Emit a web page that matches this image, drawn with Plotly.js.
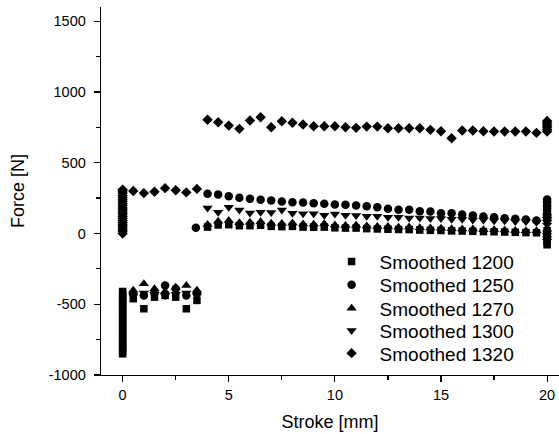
<!DOCTYPE html>
<html>
<head>
<meta charset="utf-8">
<script src="https://cdn.plot.ly/plotly-3.0.1.min.js"></script>
<style>html,body{margin:0;padding:0;background:#fff;}#chart{width:559px;height:434px;}</style>
</head>
<body>
<div id="chart"></div>
<script>
// ---- data ----
var xInit = [0.5, 1, 1.5, 2, 2.5, 3, 3.5];
var xMain = [4, 4.5, 5, 5.5, 6, 6.5, 7, 7.5, 8, 8.5, 9, 9.5, 10, 10.5, 11, 11.5,
             12, 12.5, 13, 13.5, 14, 14.5, 15, 15.5, 16, 16.5, 17, 17.5, 18, 18.5, 19, 19.5];

// dense vertical clusters at stroke 0 and stroke 20
var s1200Start = [-410, -430, -450, -470, -490, -510, -530, -550, -570, -590, -610, -630,
                  -650, -670, -690, -710, -730, -750, -770, -790, -810, -830, -850];
var s1200Init  = [-461, -532, -450, -438, -450, -532, -473];
var s1200Main  = [45, 60, 62, 55, 55, 58, 50, 48, 50, 45, 44, 45, 40, 38, 38, 34,
                  32, 30, 28, 27, 24, 22, 21, 18, 17, 15, 13, 12, 10, 8, 6, 5];
var s1200End   = [-80, -60, -40, -20, 0, 20];

var s1250Init  = [-430, -438, -420, -367, -390, -438, -420];
var s1250Lone  = [40];
var s1250Main  = [280, 275, 263, 252, 245, 238, 233, 226, 221, 218, 214, 210, 205, 203, 198, 193,
                  186, 174, 167, 167, 157, 155, 143, 143, 134, 127, 120, 115, 108, 104, 99, 92];
var s1250End   = [100, 120, 140, 160, 180, 200, 220, 240];

var s1270Init  = [-402, -355, -390, -410, -380, -367, -402];
var s1270Main  = [64, 87, 92, 75, 80, 83, 72, 70, 74, 66, 65, 68, 60, 57, 58, 52,
                  50, 49, 44, 45, 40, 38, 37, 33, 32, 31, 27, 26, 25, 21, 20, 19];
var s1270End   = [-30, -10, 10, 30];

var s1300Init  = [-440, -420, -430, -440, -430, -420, -440];
var s1300Main  = [180, 150, 185, 165, 145, 150, 148, 165, 143, 140, 140, 128, 138, 128, 127, 122,
                  122, 115, 115, 110, 110, 105, 105, 100, 100, 95, 95, 90, 90, 85, 85, 80];
var s1300End   = [60, 80, 100, 120];

var s1320Start = [0, 15, 30, 45, 60, 75, 90, 105, 120, 135, 150, 165, 180, 195, 210,
                  225, 240, 255, 270, 285, 300, 310];
var s1320Init  = [300, 285, 295, 320, 305, 290, 315];
var s1320Main  = [803, 786, 762, 739, 798, 821, 750, 793, 782, 770, 758, 758, 758, 750, 746, 755,
                  755, 743, 743, 743, 743, 732, 722, 673, 727, 727, 722, 720, 720, 720, 720, 711];
var s1320End   = [720, 735, 750, 765, 780, 795];

var seriesNames = ['Smoothed 1200', 'Smoothed 1250', 'Smoothed 1270', 'Smoothed 1300', 'Smoothed 1320'];
var xTickVals = [0, 5, 10, 15, 20];
var yTickVals = [-1000, -500, 0, 500, 1000, 1500];

// ---- helpers ----
function fill(v, n) { var a = []; for (var i = 0; i < n; i++) a.push(v); return a; }
function build(parts) {
  var x = [], y = [];
  parts.forEach(function (p) { x = x.concat(p[0]); y = y.concat(p[1]); });
  return {x: x, y: y};
}

var d1200 = build([[fill(0, s1200Start.length), s1200Start], [xInit, s1200Init], [xMain, s1200Main], [fill(20, s1200End.length), s1200End]]);
var d1250 = build([[xInit, s1250Init], [[3.45], s1250Lone], [xMain, s1250Main], [fill(20, s1250End.length), s1250End]]);
var d1270 = build([[xInit, s1270Init], [xMain, s1270Main], [fill(20, s1270End.length), s1270End]]);
var d1300 = build([[xInit, s1300Init], [xMain, s1300Main], [fill(20, s1300End.length), s1300End]]);
var d1320 = build([[fill(0, s1320Start.length), s1320Start], [xInit, s1320Init], [xMain, s1320Main], [fill(20, s1320End.length), s1320End]]);

var legendIds = ['legend', 'legend2', 'legend3', 'legend4', 'legend5'];
function tr(d, i, symbol, size) {
  return {x: d.x, y: d.y, name: seriesNames[i], type: 'scatter', mode: 'markers', legend: legendIds[i],
          marker: {symbol: symbol, size: size, color: '#000'}};
}

var data = [
  tr(d1200, 0, 'square', 7.5),
  tr(d1250, 1, 'circle', 8.5),
  tr(d1270, 2, 'triangle-up', 9),
  tr(d1300, 3, 'triangle-down', 9),
  tr(d1320, 4, 'diamond', 8)
];

var font = 'Arial, "Liberation Sans", sans-serif';
var plotTop = 7, plotBottom = 375;
var rowCenters = [261.7, 285, 308.3, 330.7, 353.3];
var layout = {
  width: 559, height: 434,
  margin: {l: 101, r: 0, t: plotTop, b: 434 - plotBottom},
  paper_bgcolor: '#fff', plot_bgcolor: '#fff',
  font: {family: font, color: '#000', size: 14.5},
  showlegend: true,
  xaxis: {
    range: [-1.02, 20.56], tickvals: xTickVals, ticktext: xTickVals.map(String),
    ticks: 'outside', ticklen: 6, tickwidth: 1.2, tickcolor: '#000',
    showline: true, linecolor: '#000', linewidth: 1.3, mirror: false,
    showgrid: false, zeroline: false,
    minor: {dtick: 2.5, tick0: 0, ticks: 'outside', ticklen: 4, tickwidth: 1.2, tickcolor: '#000', showgrid: false},
    title: {text: 'Stroke [mm]', font: {family: font, size: 18, color: '#000'}, standoff: 13}
  },
  yaxis: {
    range: [-1000, 1600], tickvals: yTickVals, ticktext: yTickVals.map(String),
    ticks: 'outside', ticklen: 6, tickwidth: 1.2, tickcolor: '#000', ticklabelstandoff: 5,
    showline: true, linecolor: '#000', linewidth: 1.3, mirror: false,
    showgrid: false, zeroline: false,
    minor: {dtick: 250, tick0: 0, ticks: 'outside', ticklen: 4, tickwidth: 1.2, tickcolor: '#000', showgrid: false},
    title: {text: 'Force [N]', font: {family: font, size: 18, color: '#000'}, standoff: 19}
  }
};
legendIds.forEach(function (id, i) {
  layout[id] = {x: 0.486, y: (plotBottom - rowCenters[i]) / (plotBottom - plotTop),
                xanchor: 'left', yanchor: 'middle', bgcolor: 'rgba(0,0,0,0)', itemwidth: 46,
                font: {family: font, size: 19, color: '#000'}};
});

Plotly.newPlot('chart', data, layout, {displayModeBar: false, staticPlot: true});
</script>
</body>
</html>
